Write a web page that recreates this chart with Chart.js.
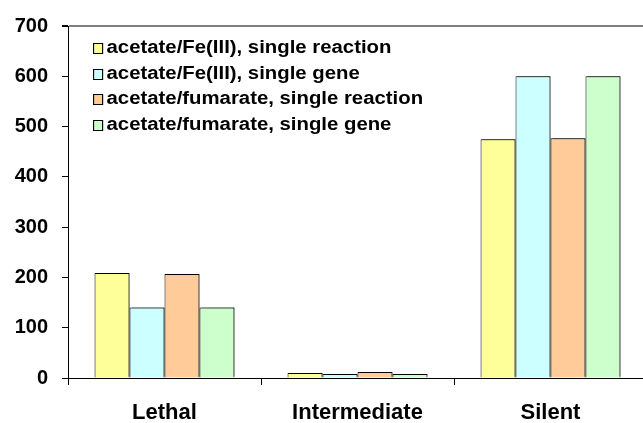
<!DOCTYPE html>
<html>
<head>
<meta charset="utf-8">
<script src="https://cdn.jsdelivr.net/npm/chart.js@4/dist/chart.umd.min.js"></script>
<style>
  html, body { margin: 0; padding: 0; background: #fff; overflow: hidden; }
  #wrap { position: relative; width: 650px; height: 423px; }
  #legend {
    position: absolute; left: 93px; top: 35px;
    font: bold 18px "Liberation Sans", Arial, sans-serif; color: #000;
    transform: scaleX(1.13); transform-origin: left top;
  }
  #legend .row { height: 25.7px; line-height: 25.7px; white-space: nowrap; }
  #legend .box {
    display: inline-block; width: 7px; height: 9px; border: 1px solid #000;
    margin-right: 3px; vertical-align: -1px;
  }
</style>
</head>
<body>
<div id="wrap">
  <canvas id="chart" width="650" height="423"></canvas>
  <div id="legend"></div>
</div>
<script>
// ── Data ─────────────────────────────────────────────────────────────────────
const categories = ['Lethal', 'Intermediate', 'Silent'];
const seriesNames = [
  'acetate/Fe(III), single reaction',
  'acetate/Fe(III), single gene',
  'acetate/fumarate, single reaction',
  'acetate/fumarate, single gene'
];
const feReaction   = [209, 10, 475];
const feGene       = [140, 8, 600];
const fumReaction  = [207, 12, 477];
const fumGene      = [140, 8, 600];
const yTicks       = [0, 100, 200, 300, 400, 500, 600, 700];

const colors = ['#FFFF99', '#CCFFFF', '#FFCC99', '#CCFFCC'];
const values = [feReaction, feGene, fumReaction, fumGene];

const FONT = '"Liberation Sans", Arial, sans-serif';

// light shadow behind bars, like the original
const barShadow = {
  id: 'barShadow',
  beforeDatasetsDraw(chart) {
    const c = chart.ctx;
    c.save();
    c.shadowColor = 'rgba(0,0,0,0.45)';
    c.shadowOffsetX = 2;
    c.shadowOffsetY = -1;
    c.shadowBlur = 0;
  },
  afterDatasetsDraw(chart) { chart.ctx.restore(); }
};

new Chart(document.getElementById('chart'), {
  type: 'bar',
  data: {
    labels: categories,
    datasets: seriesNames.map((name, i) => ({
      label: name,
      data: values[i],
      backgroundColor: colors[i],
      borderColor: '#000',
      borderWidth: 1,
      borderSkipped: 'bottom',
      categoryPercentage: 0.725,
      barPercentage: 1.0
    }))
  },
  options: {
    responsive: false,
    animation: false,
    layout: { padding: { top: 23, right: 3, left: 0, bottom: 0 } },
    plugins: { legend: { display: false }, tooltip: { enabled: false } },
    scales: {
      x: {
        afterFit: s => { s.height = 45; },
        border: { color: '#000', width: 1 },
        grid: { drawOnChartArea: false, tickLength: 7, tickColor: '#000', offset: true },
        ticks: { color: '#000', font: { family: FONT, size: 22, weight: 'bold' }, padding: 15 }
      },
      y: {
        min: 0, max: 700,
        afterFit: s => { s.width = 68; },
        afterBuildTicks: s => { s.ticks = yTicks.map(v => ({ value: v })); },
        border: { color: '#000', width: 1 },
        grid: {
          drawOnChartArea: true,
          tickLength: 6,
          tickColor: '#000',
          color: ctx => (ctx.tick && ctx.tick.value === 700) ? '#808080' : 'rgba(0,0,0,0)',
          lineWidth: ctx => (ctx.tick && ctx.tick.value === 700) ? 2 : 1
        },
        ticks: { color: '#000', font: { family: FONT, size: 20, weight: 'bold' }, padding: 14 }
      }
    }
  },
  plugins: [barShadow]
});

// ── Legend (top-left, inside plot) ──────────────────────────────────────────
const legend = document.getElementById('legend');
seriesNames.forEach((name, i) => {
  const row = document.createElement('div');
  row.className = 'row';
  const box = document.createElement('span');
  box.className = 'box';
  box.style.background = colors[i];
  row.appendChild(box);
  row.appendChild(document.createTextNode(name));
  legend.appendChild(row);
});
</script>
</body>
</html>
